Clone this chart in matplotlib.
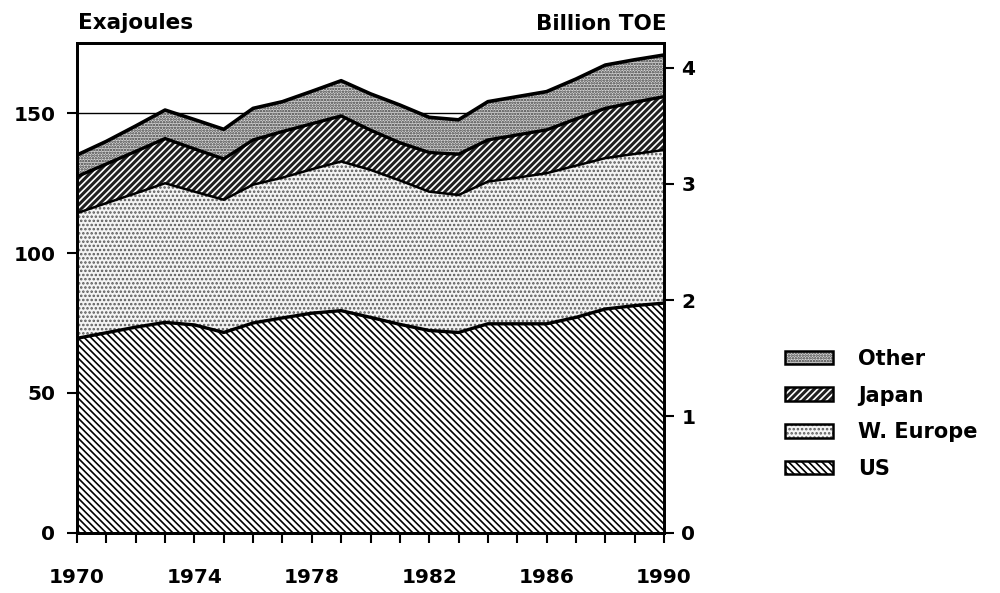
import matplotlib
matplotlib.use("Agg")
import matplotlib.pyplot as plt
import numpy as np
from matplotlib.patches import Patch
from matplotlib.ticker import FixedLocator, MultipleLocator

plt.rcParams["font.family"] = ["DejaVu Sans"]
plt.rcParams["font.weight"] = "bold"
plt.rcParams["hatch.linewidth"] = 1.2

# Primary energy consumption, exajoules
years = list(range(1970, 1991))
us = [69.5, 71.5, 73.5, 75.2, 74.3, 71.6, 75.0, 76.8, 78.5, 79.4, 77.0,
      74.5, 72.3, 71.6, 74.7, 74.7, 74.7, 77.0, 80.0, 81.2, 82.1]
w_europe = [44.8, 46.4, 47.9, 49.8, 47.7, 47.5, 49.5, 50.2, 51.5, 53.4, 52.8,
            51.5, 49.7, 49.2, 50.9, 52.3, 53.9, 54.3, 54.0, 54.3, 54.8]
japan = [13.1, 14.0, 15.0, 16.0, 15.3, 14.6, 16.0, 16.5, 16.3, 16.3, 14.2,
         13.5, 14.0, 14.6, 14.9, 15.3, 15.5, 16.7, 17.8, 18.5, 19.1]
other = [7.7, 8.1, 9.1, 10.2, 10.5, 10.6, 11.3, 10.7, 11.6, 12.6, 13.0,
         13.5, 12.6, 12.3, 13.7, 13.7, 13.7, 14.3, 15.5, 15.2, 14.9]

year_labels = [1970, 1974, 1978, 1982, 1986, 1990]
left_ticks = [0, 50, 100, 150]
right_ticks = [0, 1, 2, 3, 4]
EJ_PER_BTOE = 41.6
YMAX = 175.2

# fill styles: (facecolor, hatch colour, hatch)
STYLE = {
    "US": ("white", "black", "\\\\\\\\\\"),
    "W. Europe": ("#f4f4f4", "#5a5a5a", "...."),
    "Japan": ("#202020", "white", "/////"),
    "Other": ("#d6d6d6", "#3a3a3a", "......"),
}

fig = plt.figure(figsize=(10, 5.93), dpi=100)
ax = fig.add_axes([0.077, 0.102, 0.587, 0.8255])

x = np.array(years)
y1 = np.array(us)
y2 = y1 + np.array(w_europe)
y3 = y2 + np.array(japan)
y4 = y3 + np.array(other)

for name, lo, hi in [("US", 0, y1), ("W. Europe", y1, y2),
                     ("Japan", y2, y3), ("Other", y3, y4)]:
    fc, hc, h = STYLE[name]
    ax.fill_between(x, lo, hi, facecolor=fc, edgecolor=hc, hatch=h,
                    linewidth=0, zorder=2)
for yy, lw in [(y1, 2.4), (y2, 1.8), (y3, 2.4), (y4, 2.6)]:
    ax.plot(x, yy, color="black", lw=lw, zorder=3, solid_joinstyle="round")

ax.set_xlim(1970, 1990)
ax.set_ylim(0, YMAX)
ax.set_yticks(left_ticks)
ax.xaxis.set_major_locator(FixedLocator(year_labels))
ax.xaxis.set_minor_locator(MultipleLocator(1))
ax.yaxis.grid(True, color="black", lw=1)
ax.set_axisbelow(True)
ax.tick_params(which="both", direction="out", length=7.5, width=1.5,
               labelsize=14.5)
ax.tick_params(axis="x", which="both", pad=18)
ax.tick_params(axis="y", pad=8)
for s in ax.spines.values():
    s.set_linewidth(2)

ax2 = ax.twinx()
ax2.set_ylim(0, YMAX / EJ_PER_BTOE)
ax2.set_yticks(right_ticks)
ax2.tick_params(direction="out", length=7.5, width=1.5, pad=5, labelsize=14.5)
for s in ax2.spines.values():
    s.set_linewidth(2)

fig.text(0.078, 1 - 23 / 593, "Exajoules", ha="left", va="center",
         fontsize=15.5, weight="bold")
fig.text(0.667, 1 - 24 / 593, "Billion TOE", ha="right", va="center",
         fontsize=15.5, weight="bold")

labels = ["Other", "Japan", "W. Europe", "US"]
handles = []
for name in labels:
    fc, hc, h = STYLE[name]
    handles.append((Patch(facecolor=fc, edgecolor=hc, hatch=h, lw=0),
                    Patch(facecolor="none", edgecolor="black", lw=1.8)))
fig.legend(handles, labels, loc="center left", bbox_to_anchor=(0.785, 0.302),
           frameon=False, fontsize=15, handlelength=2.3, handleheight=0.63,
           handletextpad=1.2, labelspacing=0.8, borderpad=0, borderaxespad=0)

fig.savefig("out.png", dpi=100)
